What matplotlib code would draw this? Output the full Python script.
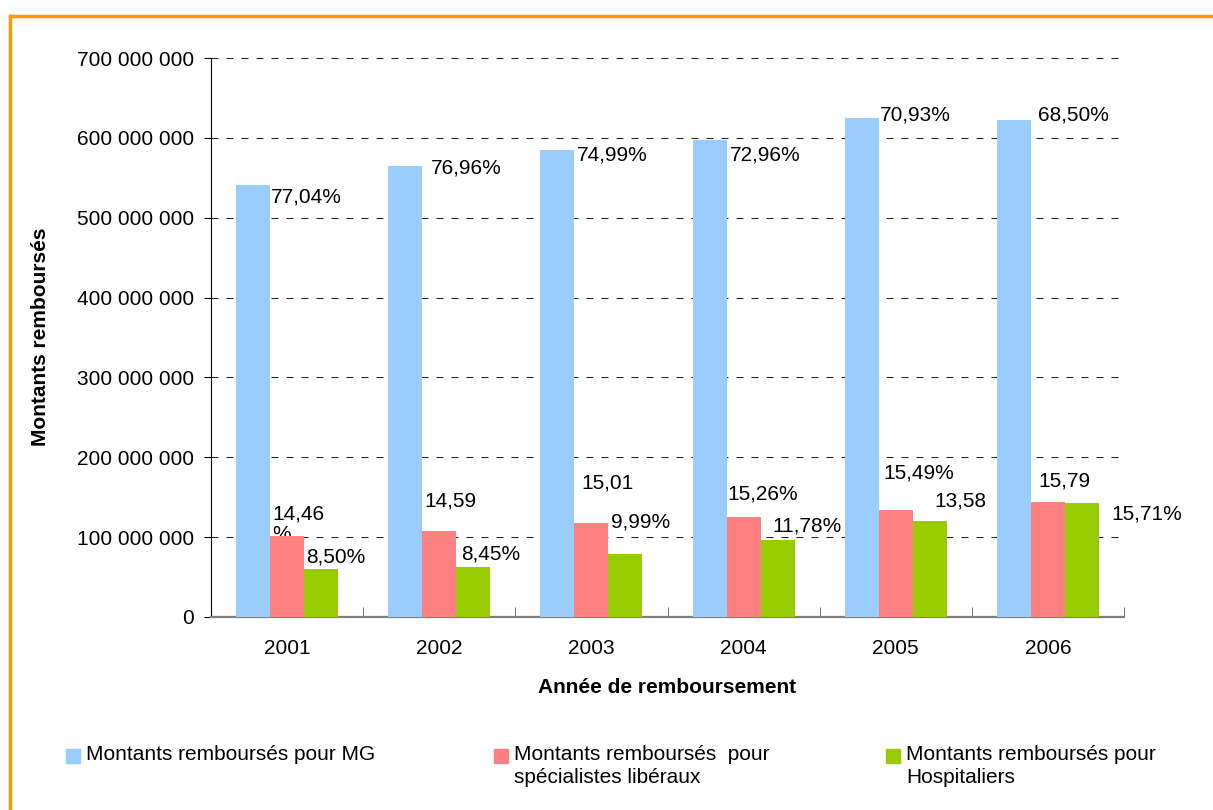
import matplotlib.pyplot as plt
from matplotlib.lines import Line2D
from matplotlib.patches import Rectangle
from matplotlib.ticker import FuncFormatter, FixedLocator
import numpy as np

plt.rcParams['font.family'] = ['Liberation Sans', 'DejaVu Sans']

# data
years = ['2001', '2002', '2003', '2004', '2005', '2006']
mg = [541e6, 565e6, 585e6, 597e6, 625e6, 622e6]
spec = [101e6, 108e6, 118e6, 125e6, 134e6, 144e6]
hosp = [60.5e6, 62.6e6, 79e6, 96.4e6, 120e6, 143e6]

mg_labels = ['77,04%', '76,96%', '74,99%', '72,96%', '70,93%', '68,50%']
spec_labels = ['14,46\n%', '14,59', '15,01', '15,26%', '15,49%', '15,79']
hosp_labels = ['8,50%', '8,45%', '9,99%', '11,78%', '13,58', '15,71%']

series_names = ['Montants remboursés pour MG',
                'Montants remboursés  pour\nspécialistes libéraux',
                'Montants remboursés pour\nHospitaliers']
colors = ['#99CCFF', '#FF8080', '#99CC00']

# label offsets (pixels) from the top-right corner of each bar, like Excel placed them
mg_off = [(1, -12), (9, -2), (2, -5), (3, -15), (1, 3), (7, 5)]
spec_off = [(-32, 12), (-32, 30), (-27, 40), (-33, 23), (-29, 37), (-27, 21)]
hosp_off = [(-32, 12), (-29, 13), (-31, 32), (-22, 14), (-12, 20), (12, -11)]

W, H = 1213, 810
fig = plt.figure(figsize=(W / 100, H / 100), dpi=100)
ax = fig.add_axes([211 / W, 1 - 617 / H, (1124 - 211) / W, (617 - 58) / H])

x = np.arange(len(years))
w = 0.2234
for i, (vals, labs, offs) in enumerate([(mg, mg_labels, mg_off),
                                         (spec, spec_labels, spec_off),
                                         (hosp, hosp_labels, hosp_off)]):
    pos = x + (i - 1) * w
    ax.bar(pos, vals, width=w, color=colors[i], zorder=3)
    for p, v, lab, (dx, dy) in zip(pos, vals, labs, offs):
        ax.annotate(lab, xy=(p + w / 2, v), xytext=(dx, dy),
                    textcoords='offset pixels', ha='left', va='center',
                    fontsize=15, zorder=2, linespacing=1.05,
                    annotation_clip=False)

ax.set_xlim(-0.5, 5.5)
ax.set_ylim(0, 700e6)
ax.set_yticks(np.arange(0, 700e6 + 1, 100e6))
ax.yaxis.set_major_formatter(FuncFormatter(lambda v, _: f'{int(v):,}'.replace(',', ' ')))
ax.set_xticks(x)
ax.set_xticklabels(years)
ax.xaxis.set_minor_locator(FixedLocator(np.arange(-0.5, 6, 1)))
ax.tick_params(axis='x', which='major', length=0, pad=16, labelsize=15)
ax.tick_params(axis='x', which='minor', direction='in', length=7, color='#555555')
ax.tick_params(axis='y', direction='out', length=5, pad=7, labelsize=15)

ax.grid(axis='y', color='#222222', linestyle=(0, (6.7, 7.7)), linewidth=0.75, zorder=0)
ax.set_axisbelow(True)
for s in ['top', 'right']:
    ax.spines[s].set_visible(False)
ax.spines['left'].set_color('black')
ax.spines['bottom'].set_color('#808080')
ax.spines['bottom'].set_linewidth(1.6)

ax.set_xlabel('Année de remboursement', fontsize=15, fontweight='bold', labelpad=14)
ax.set_ylabel('Montants remboursés', fontsize=15, fontweight='bold')
ax.yaxis.set_label_coords(41 / W, 1 - 337 / H, transform=fig.transFigure)
ax.yaxis.label.set_va('center')

# legend drawn by hand to match the spread-out layout
leg_x = [66, 494, 886]
for lx, col, name in zip(leg_x, colors, series_names):
    fig.patches.append(Rectangle((lx / W, 1 - 763 / H), 14 / W, 14 / H,
                                 transform=fig.transFigure, color=col))
    fig.text((lx + 20) / W, 1 - 745 / H, name, fontsize=15, va='top', ha='left',
             linespacing=1.28)

# orange frame
orange = '#FF9900'
fig.lines.append(Line2D([10 / W, 1], [1 - 16 / H, 1 - 16 / H], transform=fig.transFigure,
                        color=orange, linewidth=2.5))
fig.lines.append(Line2D([10 / W, 10 / W], [0, 1 - 16 / H], transform=fig.transFigure,
                        color=orange, linewidth=2.5))

fig.savefig('out.png', dpi=100)
